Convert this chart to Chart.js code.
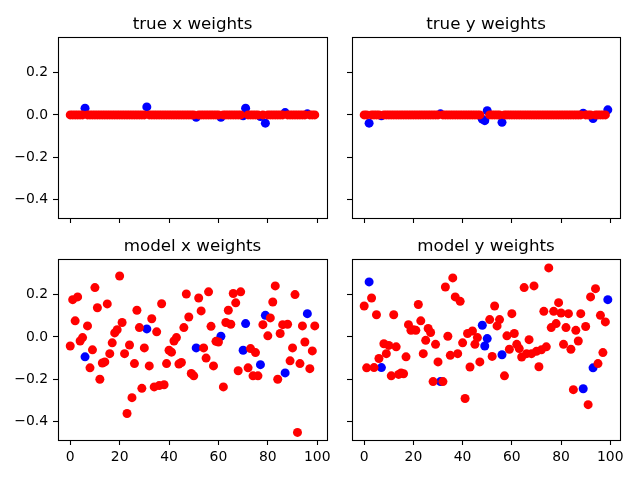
<!DOCTYPE html>
<html>
<head>
<meta charset="utf-8">
<script src="https://cdn.jsdelivr.net/npm/chart.js@4.4.1/dist/chart.umd.min.js"></script>
<style>
  body { margin: 0; background: #fff; }
  canvas { position: absolute; }
</style>
</head>
<body>
<canvas id="tl" width="335" height="230" style="left:0;top:0"></canvas>
<canvas id="tr" width="335" height="230" style="left:300px;top:0"></canvas>
<canvas id="bl" width="335" height="258" style="left:0;top:222px"></canvas>
<canvas id="br" width="335" height="258" style="left:300px;top:222px"></canvas>
<script>
const xTicks = [0, 20, 40, 60, 80, 100];
const yTicks = [-0.4, -0.2, 0.0, 0.2];

// indices with a nonzero true weight (drawn blue)
const activeX = [6, 31, 51, 61, 70, 71, 77, 79, 87, 96];
const activeY = [2, 7, 31, 48, 49, 50, 56, 89, 93, 99];

const trueX = [
  0, 0, 0, 0, 0, 0, 0.032, 0, 0, 0,
  0, 0, 0, 0, 0, 0, 0, 0, 0, 0,
  0, 0, 0, 0, 0, 0, 0, 0, 0, 0,
  0, 0.038, 0, 0, 0, 0, 0, 0, 0, 0,
  0, 0, 0, 0, 0, 0, 0, 0, 0, 0,
  0, -0.011, 0, 0, 0, 0, 0, 0, 0, 0,
  0, -0.011, 0, 0, 0, 0, 0, 0, 0, 0,
  -0.004, 0.032, 0, 0, 0, 0, 0, -0.008, 0, -0.039,
  0, 0, 0, 0, 0, 0, 0, 0.011, 0, 0,
  0, 0, 0, 0, 0, 0, 0.005, 0, 0, 0
];
const trueY = [
  0, 0, -0.039, 0, 0, 0, 0, -0.004, 0, 0,
  0, 0, 0, 0, 0, 0, 0, 0, 0, 0,
  0, 0, 0, 0, 0, 0, 0, 0, 0, 0,
  0, 0.005, 0, 0, 0, 0, 0, 0, 0, 0,
  0, 0, 0, 0, 0, 0, 0, 0, -0.02, -0.027,
  0.02, 0, 0, 0, 0, 0, -0.035, 0, 0, 0,
  0, 0, 0, 0, 0, 0, 0, 0, 0, 0,
  0, 0, 0, 0, 0, 0, 0, 0, 0, 0,
  0, 0, 0, 0, 0, 0, 0, 0, 0, 0.008,
  0, 0, 0, -0.017, 0, 0, 0, 0, 0, 0.024
];
const modelX = [
  -0.043, 0.176, 0.076, 0.189, -0.019, -0.003, -0.094, 0.052, -0.146, -0.061,
  0.233, 0.138, -0.2, -0.123, -0.118, 0.156, -0.079, -0.028, 0.019, 0.034,
  0.288, 0.068, -0.079, -0.362, -0.038, -0.287, -0.126, 0.126, 0.044, -0.243,
  -0.052, 0.038, -0.137, 0.086, -0.236, 0.024, -0.23, 0.157, -0.226, -0.126,
  -0.063, -0.072, -0.019, -0.003, -0.128, -0.121, 0.044, 0.203, 0.094, -0.173,
  -0.184, -0.052, 0.184, 0.123, -0.052, -0.1, 0.213, 0.05, -0.137, -0.021,
  -0.024, 0.003, -0.236, 0.068, 0.126, 0.06, 0.205, 0.161, -0.16, 0.213,
  -0.063, 0.063, -0.146, -0.055, -0.184, -0.074, -0.184, -0.131, 0.058, 0.102,
  0.005, 0.09, 0.165, 0.241, -0.2, 0.016, 0.058, -0.17, 0.06, -0.113,
  -0.052, 0.2, -0.451, -0.126, 0.052, -0.024, 0.11, -0.15, -0.066, 0.052
];
const modelY = [
  0.146, -0.146, 0.26, 0.184, -0.145, 0.105, -0.102, -0.145, -0.032, -0.079,
  -0.04, -0.184, 0.105, -0.047, -0.177, -0.17, -0.174, -0.094, 0.058, 0.031,
  0.034, 0.031, 0.153, 0.076, -0.079, -0.016, 0.04, 0.021, -0.211, -0.035,
  -0.118, -0.211, -0.211, 0.236, 0.003, -0.087, 0.279, 0.189, -0.079, 0.168,
  -0.028, -0.291, 0.016, -0.142, 0.028, -0.035, -0.003, -0.118, 0.055, -0.043,
  -0.008, 0.082, -0.092, 0.146, 0.052, 0.082, -0.084, -0.184, 0.005, -0.058,
  0.11, 0.016, -0.035, -0.055, -0.095, 0.233, -0.079, -0.013, -0.079, 0.241,
  -0.068, -0.141, -0.061, 0.121, -0.047, 0.326, 0.044, 0.121, 0.063, 0.162,
  0.113, -0.035, 0.044, 0.11, -0.058, -0.249, 0.031, -0.019, 0.11, -0.245,
  0.049, -0.32, 0.189, -0.146, 0.228, -0.126, 0.102, -0.074, 0.071, 0.176
];

const FONT = 'DejaVu Sans';

// full box around the axes, like matplotlib spines
const frame = {
  id: 'frame',
  afterDraw(chart) {
    const { ctx, chartArea: a } = chart;
    ctx.save();
    ctx.strokeStyle = '#000';
    ctx.lineWidth = 1.1;
    ctx.strokeRect(Math.round(a.left) + 0.5, Math.round(a.top) + 0.5,
      Math.round(a.right - a.left), Math.round(a.bottom - a.top));
    ctx.restore();
  }
};

function panel(id, title, values, active, opts) {
  const red = [], blue = [];
  values.forEach((v, i) => {
    (active.includes(i) ? blue : red).push({ x: i, y: v });
  });
  new Chart(document.getElementById(id), {
    type: 'scatter',
    data: {
      datasets: [
        { data: red, backgroundColor: '#ff0000', borderWidth: 0, pointRadius: 4.5 },
        { data: blue, backgroundColor: '#0000ff', borderWidth: 0, pointRadius: 4.5 }
      ]
    },
    options: {
      responsive: false,
      animation: false,
      events: [],
      layout: { padding: { right: opts.padRight } },
      plugins: {
        legend: { display: false },
        tooltip: { enabled: false },
        title: {
          display: true,
          fullSize: false,
          text: title,
          color: '#000',
          font: { family: FONT, size: 16.7, weight: 'normal' },
          padding: { top: 15, bottom: 2 }
        }
      },
      scales: {
        x: {
          type: 'linear',
          min: -4.95,
          max: 103.95,
          afterBuildTicks: s => { s.ticks = xTicks.map(v => ({ value: v })); },
          afterFit: s => { s.height = opts.xh; s.paddingLeft = 0; s.paddingRight = 0; },
          grid: { display: true, drawOnChartArea: false, drawTicks: true, tickLength: 5, tickWidth: 1.1, tickColor: '#000' },
          border: { display: false },
          ticks: {
            display: opts.xLabels,
            color: '#000',
            padding: 4,
            maxRotation: 0,
            font: { family: FONT, size: 13.9 },
            callback: v => String(v)
          }
        },
        y: {
          type: 'linear',
          min: -0.487,
          max: 0.368,
          afterBuildTicks: s => { s.ticks = yTicks.map(v => ({ value: v })); },
          afterFit: s => { s.width = opts.yw; s.paddingTop = 0; s.paddingBottom = 0; },
          grid: { display: true, drawOnChartArea: false, drawTicks: true, tickLength: 5, tickWidth: 1.1, tickColor: '#000' },
          border: { display: false },
          ticks: {
            display: opts.yLabels,
            color: '#000',
            padding: 5,
            font: { family: FONT, size: 13.9 },
            callback: v => v.toFixed(1).replace('-', '\u2212')
          }
        }
      }
    },
    plugins: [frame]
  });
}

panel('tl', 'true x weights', trueX, activeX, { xLabels: false, yLabels: true, yw: 58, xh: 12, padRight: 8 });
panel('tr', 'true y weights', trueY, activeY, { xLabels: false, yLabels: false, yw: 52, xh: 12, padRight: 15 });
panel('bl', 'model x weights', modelX, activeX, { xLabels: true, yLabels: true, yw: 58, xh: 40, padRight: 8 });
panel('br', 'model y weights', modelY, activeY, { xLabels: true, yLabels: false, yw: 52, xh: 40, padRight: 15 });
</script>
</body>
</html>
